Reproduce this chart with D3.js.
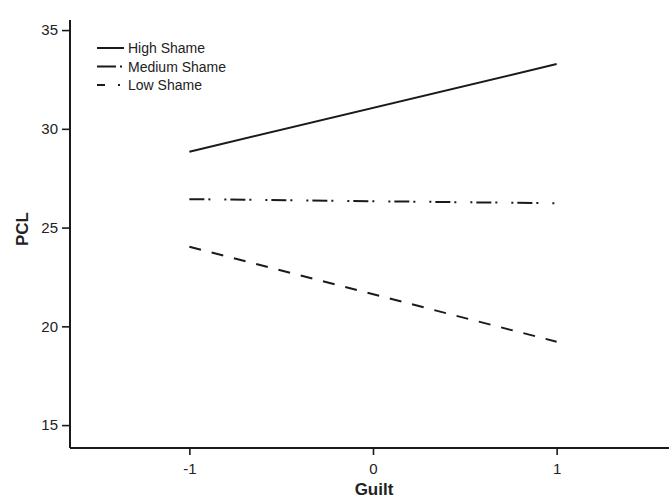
<!DOCTYPE html>
<html>
<head>
<meta charset="utf-8">
<script src="https://cdn.jsdelivr.net/npm/d3@7"></script>
<style>
  body { margin: 0; background: #fff; }
  text { font-family: "Liberation Sans", Arial, sans-serif; fill: #222; }
</style>
</head>
<body>
<div id="container"></div>
<script>
// data
const guilt = [-1, 1]
const seriesNames = ['High Shame', 'Medium Shame', 'Low Shame']
const highShame = [28.84, 33.28]
const mediumShame = [26.44, 26.23]
const lowShame = [24.03, 19.22]
const xTicks = [-1, 0, 1]
const yTicks = [15, 20, 25, 30, 35]

const width = 669
const height = 499
const ink = '#1a1a1a'
const dashes = [null, '15,4,2,14,2,4', '12,11']

const svg = d3.select('#container')
  .append('svg')
  .attr('width', width)
  .attr('height', height)

const xScale = d3.scaleLinear()
  .domain([-1.65, 1.65])
  .range([70, 676])

const yScale = d3.scaleLinear()
  .domain([13.84, 35.51])
  .range([448, 20])

// axes
const xAxis = svg.append('g')
  .attr('transform', 'translate(0, 448)')
  .call(d3.axisBottom(xScale).tickValues(xTicks).tickSize(7).tickPadding(8).tickFormat((d) => String(d)))

const yAxis = svg.append('g')
  .attr('transform', 'translate(70, 0)')
  .call(d3.axisLeft(yScale).tickValues(yTicks).tickSize(8).tickPadding(4))

;[xAxis, yAxis].forEach((ax) => {
  ax.select('.domain').attr('stroke', ink).attr('stroke-width', 2)
  ax.selectAll('.tick line').attr('stroke', ink).attr('stroke-width', 1.6)
  ax.selectAll('.tick text')
    .style('font-family', '"Liberation Sans", Arial, sans-serif')
    .style('font-size', '15px')
    .attr('fill', '#2a2a2a')
})
xAxis.select('.domain').attr('d', 'M70,0H676')
yAxis.select('.domain').attr('d', 'M0,20V448')

// axis titles
svg.append('text')
  .attr('x', 374)
  .attr('y', 495)
  .attr('text-anchor', 'middle')
  .style('font-size', '17px')
  .style('font-weight', 'bold')
  .text('Guilt')

svg.append('text')
  .attr('transform', 'translate(28, 229) rotate(-90)')
  .attr('text-anchor', 'middle')
  .style('font-size', '17px')
  .style('font-weight', 'bold')
  .text('PCL')

// lines
const series = [highShame, mediumShame, lowShame]
const line = d3.line()
  .x((d, i) => xScale(guilt[i]))
  .y((d) => yScale(d))

svg.selectAll('.series')
  .data(series)
  .enter()
  .append('path')
  .attr('class', 'series')
  .attr('d', (d) => line(d))
  .attr('fill', 'none')
  .attr('stroke', ink)
  .attr('stroke-width', 2)
  .attr('stroke-dasharray', (d, i) => dashes[i])

// legend
const legend = svg.selectAll('.legend')
  .data(seriesNames)
  .enter()
  .append('g')
  .attr('class', 'legend')
  .attr('transform', (d, i) => `translate(97, ${48 + i * 18.5})`)

legend.append('line')
  .attr('x1', 0)
  .attr('x2', 27)
  .attr('stroke', ink)
  .attr('stroke-width', 2)
  .attr('stroke-dasharray', (d, i) => i === 0 ? null : (i === 1 ? '19,4,2,20' : '8,13,2,20'))

legend.append('text')
  .attr('x', 31)
  .attr('y', 5)
  .style('font-size', '14px')
  .text((d) => d)
</script>
</body>
</html>
